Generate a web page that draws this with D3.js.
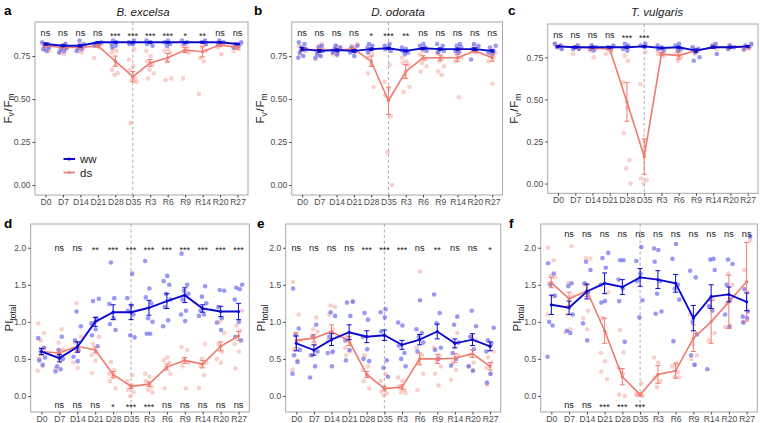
<!DOCTYPE html>
<html><head><meta charset="utf-8">
<script src="https://cdn.jsdelivr.net/npm/d3@7"></script>
<style>body{margin:0;background:#fff}svg{display:block;font-family:"Liberation Sans",Arial,sans-serif}</style>
</head><body><svg id="c" width="760" height="423"></svg>
<script>
const cats = ["D0","D7","D14","D21","D28","D35","R3","R6","R9","R14","R20","R27"];
const titles = ["B. excelsa","D. odorata","T. vulgaris"];
const fvTicks = [0,0.25,0.5,0.75];
const piTicks = [0,0.5,1.0,1.5,2.0];

// ---- panel a (Fv/Fm, B. excelsa)
const aWwMean = [0.82,0.81,0.81,0.83,0.83,0.83,0.83,0.83,0.83,0.83,0.83,0.82];
const aWwSe   = [0.006,0.006,0.008,0.004,0.004,0.004,0.004,0.004,0.004,0.004,0.004,0.004];
const aDsMean = [0.81,0.80,0.80,0.81,0.72,0.63,0.71,0.74,0.785,0.775,0.815,0.80];
const aDsSe   = [0.006,0.006,0.006,0.01,0.03,0.03,0.02,0.025,0.015,0.03,0.01,0.01];
const aWwPts = [[0.83,0.82,0.81,0.80,0.79,0.78],[0.82,0.81,0.80,0.79,0.78,0.77],[0.84,0.82,0.80,0.79,0.78],[0.83,0.82,0.82,0.81],[0.84,0.83,0.82,0.81,0.80],[0.84,0.83,0.82,0.82],[0.84,0.83,0.82,0.81],[0.84,0.83,0.82,0.81],[0.84,0.83,0.82],[0.84,0.83,0.82],[0.84,0.83,0.82],[0.83,0.82,0.81,0.80]];
const aDsPts = [[0.82,0.80,0.79,0.78],[0.82,0.80,0.79,0.77,0.76],[0.82,0.80,0.78,0.77],[0.82,0.81,0.80,0.74],[0.79,0.78,0.77,0.70,0.67,0.65,0.64],[0.79,0.73,0.69,0.67,0.62,0.61,0.60,0.36],[0.78,0.75,0.72,0.70,0.67,0.65,0.62],[0.79,0.78,0.77,0.72,0.62,0.61],[0.81,0.80,0.78,0.77,0.62],[0.82,0.80,0.78,0.74,0.72,0.53],[0.83,0.82,0.80,0.76],[0.82,0.80,0.79,0.78]];
const aSigTop = ["ns","ns","ns","ns","***","***","***","***","*","**","ns","ns"];
const aSigBot = ["","","","","","","","","","","",""];

// ---- panel b (Fv/Fm, D. odorata)
const bWwMean = [0.79,0.78,0.785,0.78,0.79,0.795,0.78,0.795,0.79,0.79,0.79,0.78];
const bWwSe   = [0.01,0.008,0.006,0.008,0.006,0.005,0.005,0.005,0.006,0.006,0.008,0.006];
const bDsMean = [0.79,0.785,0.785,0.79,0.72,0.49,0.66,0.74,0.74,0.74,0.78,0.74];
const bDsSe   = [0.008,0.01,0.008,0.006,0.03,0.08,0.04,0.012,0.015,0.02,0.01,0.02];
const bWwPts = [[0.83,0.82,0.80,0.79,0.77,0.75,0.74],[0.81,0.80,0.78,0.76,0.75,0.74],[0.81,0.80,0.79,0.78,0.77,0.76],[0.81,0.80,0.78,0.77,0.75],[0.82,0.81,0.80,0.79,0.77],[0.82,0.81,0.80,0.79,0.78],[0.80,0.79,0.78,0.77,0.76],[0.82,0.81,0.80,0.79,0.78],[0.82,0.81,0.79,0.78,0.77],[0.82,0.81,0.80,0.78,0.77],[0.82,0.81,0.79,0.78,0.73],[0.81,0.80,0.78,0.77,0.76]];
const bDsPts = [[0.81,0.80,0.79,0.78,0.76],[0.82,0.81,0.79,0.77,0.75,0.73],[0.81,0.80,0.78,0.77,0.76,0.75],[0.82,0.81,0.80,0.79,0.77],[0.78,0.76,0.74,0.70,0.65,0.57],[0.70,0.60,0.56,0.52,0.40,0.19,0.00],[0.74,0.72,0.71,0.70,0.63,0.57,0.54],[0.78,0.76,0.73,0.71,0.69,0.66],[0.77,0.74,0.72,0.69,0.66,0.64],[0.78,0.76,0.74,0.72,0.51],[0.81,0.80,0.78,0.77],[0.77,0.75,0.74,0.72,0.59]];
const bSigTop = ["ns","ns","ns","ns","*","***","**","ns","ns","ns","ns","ns"];
const bSigBot = ["","","","","","","","","","","",""];

// ---- panel c (Fv/Fm, T. vulgaris)
const cWwMean = [0.815,0.81,0.81,0.81,0.81,0.815,0.805,0.81,0.79,0.81,0.81,0.815];
const cWwSe   = [0.004,0.004,0.004,0.004,0.005,0.004,0.004,0.005,0.01,0.006,0.004,0.004];
const cDsMean = [0.815,0.81,0.805,0.80,0.485,0.16,0.77,0.76,0.79,0.81,0.81,0.81];
const cDsSe   = [0.004,0.006,0.008,0.008,0.115,0.105,0.008,0.02,0.006,0.004,0.004,0.004];
const cWwPts = [[0.83,0.82,0.81,0.80],[0.82,0.81,0.80,0.80],[0.82,0.81,0.80,0.79],[0.82,0.81,0.80],[0.83,0.82,0.80,0.79],[0.83,0.82,0.81],[0.82,0.81,0.80,0.79],[0.83,0.82,0.80,0.79],[0.81,0.80,0.78,0.75,0.73],[0.83,0.82,0.77],[0.82,0.81,0.80],[0.83,0.82,0.81,0.80]];
const cDsPts = [[0.83,0.82,0.81,0.80],[0.82,0.81,0.80,0.77],[0.82,0.80,0.79,0.75],[0.81,0.80,0.78,0.77],[0.76,0.73,0.60,0.45,0.30,0.14,0.09,0.00],[0.78,0.59,0.25,0.03,0.02,0.00],[0.79,0.78,0.77,0.76],[0.79,0.77,0.75,0.73],[0.80,0.79,0.77],[0.82,0.81,0.80],[0.82,0.81,0.80],[0.82,0.81,0.80,0.79]];
const cSigTop = ["ns","ns","ns","ns","***","***","","","","","",""];
const cSigBot = ["","","","","","","","","","","",""];

// ---- panel d (PItotal, B. excelsa)
const dWwMean = [0.60,0.51,0.66,1.00,1.13,1.13,1.19,1.28,1.36,1.18,1.14,1.14];
const dWwSe   = [0.04,0.05,0.07,0.06,0.10,0.10,0.10,0.10,0.10,0.05,0.07,0.11];
const dDsMean = [0.60,0.58,0.67,0.62,0.29,0.13,0.16,0.39,0.48,0.43,0.67,0.81];
const dDsSe   = [0.05,0.04,0.06,0.04,0.04,0.03,0.03,0.04,0.04,0.05,0.06,0.06];
const dWwPts = [[0.78,0.65,0.60,0.52,0.48,0.42],[0.80,0.62,0.50,0.40,0.36,0.33],[1.14,0.94,0.75,0.62,0.53,0.47],[1.31,1.28,1.05,0.98,0.90,0.82,0.67],[1.80,1.32,1.24,1.05,0.97,0.89],[1.65,1.32,1.22,1.15,1.10,0.82,0.79],[1.82,1.45,1.33,1.25,1.05,1.00,0.84,0.84],[1.62,1.55,1.50,1.38,1.30,1.20,1.02,0.94],[1.92,1.50,1.42,1.38,1.30,1.15,1.10,1.01],[1.48,1.34,1.25,1.15,1.10,1.08],[1.43,1.42,1.20,1.05,0.99,0.89],[1.50,1.46,1.44,1.30,1.00,0.80,0.75]];
const dDsPts = [[0.98,0.85,0.75,0.65,0.50,0.40,0.34],[0.90,0.72,0.63,0.55,0.47,0.37],[1.25,0.80,0.72,0.60,0.45,0.38],[0.80,0.70,0.60,0.55,0.48,0.31],[0.46,0.35,0.30,0.25,0.20,0.10],[0.28,0.20,0.12,0.08,0.05,0.00],[0.30,0.26,0.20,0.12,0.08,0.05],[0.52,0.48,0.45,0.38,0.30,0.10],[0.66,0.62,0.50,0.45,0.40,0.10],[0.70,0.50,0.45,0.40,0.28,0.11],[1.00,0.85,0.70,0.60,0.50,0.45],[1.15,0.95,0.88,0.70,0.60,0.37]];
const dSigTop = ["","ns","ns","**","***","***","***","***","***","***","***","***"];
const dSigBot = ["","ns","ns","ns","*","***","***","ns","ns","ns","ns","ns"];

// ---- panel e (PItotal, D. odorata)
const eWwMean = [0.71,0.62,0.76,0.86,0.80,0.82,0.69,0.76,0.87,0.71,0.76,0.67];
const eWwSe   = [0.10,0.07,0.08,0.10,0.08,0.07,0.06,0.07,0.10,0.06,0.08,0.06];
const eDsMean = [0.75,0.78,0.87,0.74,0.29,0.10,0.12,0.50,0.50,0.51,0.57,0.40];
const eDsSe   = [0.10,0.05,0.09,0.06,0.04,0.03,0.03,0.08,0.06,0.06,0.05,0.05];
const eWwPts = [[1.45,0.91,0.82,0.62,0.55,0.46,0.30],[0.96,0.81,0.60,0.55,0.40,0.25],[1.13,1.08,0.80,0.60,0.58,0.40],[1.27,1.26,1.08,0.75,0.62,0.48],[1.12,1.03,0.80,0.63,0.50,0.47],[1.17,1.13,1.06,0.87,0.48,0.38,0.26],[0.99,0.95,0.68,0.58,0.50,0.40],[1.29,0.90,0.85,0.80,0.72,0.60],[1.37,1.12,0.98,0.65,0.62,0.50],[1.07,0.96,0.72,0.58,0.50,0.41],[1.15,0.94,0.80,0.63,0.40,0.34],[0.92,0.75,0.70,0.60,0.30,0.18]];
const eDsPts = [[1.54,1.10,0.85,0.75,0.62,0.48,0.35],[1.06,0.90,0.87,0.80,0.70,0.55],[1.22,1.20,1.10,0.90,0.75,0.58],[1.28,0.80,0.70,0.65,0.60,0.55],[0.55,0.40,0.35,0.28,0.20,0.10],[0.30,0.20,0.10,0.06,0.03,0.01],[0.25,0.20,0.12,0.08,0.05,0.04],[1.68,0.65,0.55,0.45,0.30,0.08],[0.65,0.55,0.48,0.40,0.30,0.14],[0.85,0.65,0.55,0.45,0.35,0.22],[0.80,0.75,0.55,0.45,0.40,0.35],[0.60,0.52,0.45,0.38,0.30,0.15]];
const eSigTop = ["ns","ns","ns","ns","***","***","***","ns","**","ns","ns","*"];
const eSigBot = ["","","","","","","","","","","",""];

// ---- panel f (PItotal, T. vulgaris)
const fWwMean = [1.23,1.19,1.41,1.52,1.47,1.60,1.57,1.52,1.05,1.34,1.37,1.27];
const fWwSe   = [0.13,0.09,0.10,0.14,0.10,0.12,0.12,0.12,0.17,0.16,0.10,0.12];
const fDsMean = [1.53,1.31,1.42,0.88,0.26,0.02,0.29,0.34,0.78,1.00,1.27,1.54];
const fDsSe   = [0.07,0.09,0.08,0.17,0.11,0.02,0.12,0.10,0.18,0.29,0.36,0.53];
const fWwPts = [[1.79,1.65,1.50,1.35,1.00,0.95,0.53],[1.52,1.48,1.10,0.88,0.85],[1.81,1.70,1.52,1.40,0.98,0.75],[1.93,1.86,1.73,1.50,1.28,1.26],[1.83,1.83,1.57,1.45,1.28,0.73],[2.01,1.82,1.65,1.55,1.29,1.06],[1.99,1.97,1.81,1.55,1.38,1.14,1.11],[2.05,1.85,1.50,1.45,1.30,0.74],[1.69,1.60,1.00,0.83,0.55,0.42],[1.85,1.84,1.70,1.21,1.15,0.36],[1.84,1.78,1.50,1.30,1.10,0.93],[2.15,1.44,1.14,1.07,1.05,0.99]];
const fDsPts = [[2.00,1.83,1.62,1.60,1.52,1.35,1.10],[2.02,1.52,1.35,1.10,0.90,0.86],[1.86,1.85,1.50,1.15,1.05,0.90],[1.40,1.05,0.85,0.58,0.47,0.33,0.23],[0.89,0.59,0.38,0.30,0.02,0.00],[0.17,0.03,0.02,0.01,0.00],[0.52,0.45,0.25,0.20,0.12],[0.44,0.40,0.32,0.26,0.25],[1.10,0.85,0.70,0.55,0.50,0.42],[1.30,1.20,0.85,0.75],[1.65,1.50,1.25,0.95,0.93],[2.10,1.70,1.40,1.00]];
const fSigTop = ["","ns","ns","ns","ns","ns","ns","ns","ns","ns","ns","ns"];
const fSigBot = ["","ns","ns","***","***","***","","","","","",""];

// ---------------- drawing ----------------
const WW = "#0a0ad0", DS = "#ef7b6f";
const WWPT = "rgba(70,70,235,0.55)", DSPT = "rgba(244,150,140,0.45)";
const svg = d3.select("#c");

const panels = [
  {lab:"a", title:titles[0], type:"fv", box:[35,248,22,195], lx:4, ly:15, tx:143, ytb:11.5, wm:aWwMean, ws:aWwSe, dm:aDsMean, dsd:aDsSe, wp:aWwPts, dp:aDsPts, st:aSigTop, sb:aSigBot, legend:true},
  {lab:"b", title:titles[1], type:"fv", box:[291.7,502.5,22,195], lx:254, ly:15, tx:398, ytb:264, wm:bWwMean, ws:bWwSe, dm:bDsMean, dsd:bDsSe, wp:bWwPts, dp:bDsPts, st:bSigTop, sb:bSigBot},
  {lab:"c", title:titles[2], type:"fv", box:[547.7,758,24,193.3], lx:508, ly:15, tx:657, ytb:518, wm:cWwMean, ws:cWwSe, dm:cDsMean, dsd:cDsSe, wp:cWwPts, dp:cDsPts, st:cSigTop, sb:cSigBot},
  {lab:"d", type:"pi", box:[30.7,249.3,224,412], lx:4, ly:228, ytb:13, wm:dWwMean, ws:dWwSe, dm:dDsMean, dsd:dDsSe, wp:dWwPts, dp:dDsPts, st:dSigTop, sb:dSigBot},
  {lab:"e", type:"pi", box:[285.7,500.7,224,412], lx:257, ly:228, ytb:265, wm:eWwMean, ws:eWwSe, dm:eDsMean, dsd:eDsSe, wp:eWwPts, dp:eDsPts, st:eSigTop, sb:eSigBot},
  {lab:"f", type:"pi", box:[540.7,757.3,224,412], lx:509, ly:228, ytb:521, wm:fWwMean, ws:fWwSe, dm:fDsMean, dsd:fDsSe, wp:fWwPts, dp:fDsPts, st:fSigTop, sb:fSigBot}
];

const jit = [-3.2,2.4,-0.8,3.6,-2.2,1.2,-3.8,0.4];

panels.forEach(p => {
  const [l,r,t,b] = p.box;
  const x = d3.scalePoint().domain(cats).range([l,r]).padding(0.6);
  let y, ticks, fmt, topY, botY;
  if (p.type === "fv") {
    y = d3.scaleLinear().domain([-0.058,0.948]).range([b,t]);
    ticks = fvTicks; fmt = d3.format(".2f"); topY = 0.882; botY = null;
  } else {
    y = d3.scaleLinear().domain([-0.216,2.32]).range([b,t]);
    ticks = piTicks; fmt = d3.format(".1f");
    topY = (p.lab === "f") ? 2.19 : 2.0; botY = -0.12;
  }
  const g = svg.append("g");
  g.append("rect").attr("x",l).attr("y",t).attr("width",r-l).attr("height",b-t)
    .attr("fill","#fff").attr("stroke","#a8a8a8").attr("stroke-width",1);

  const yAx = g.append("g").attr("transform",`translate(${l},0)`)
    .call(d3.axisLeft(y).tickValues(ticks).tickFormat(fmt).tickSize(2.5).tickPadding(2));
  const xAx = g.append("g").attr("transform",`translate(0,${b})`)
    .call(d3.axisBottom(x).tickSize(2.5).tickPadding(1.5));
  [yAx,xAx].forEach(a => {
    a.select(".domain").remove();
    a.selectAll("line").attr("stroke","#444");
    a.selectAll("text").attr("fill","#4d4d4d").style("font-size","8.6px").style("font-family","Liberation Sans, Arial, sans-serif");
  });

  g.append("line").attr("x1",x("D35")).attr("x2",x("D35")).attr("y1",t).attr("y2",b)
    .attr("stroke","#9a9a9a").attr("stroke-width",0.8).attr("stroke-dasharray","3,2.5");

  const pts = (arr,col) => {
    arr.forEach((vals,i) => vals.forEach((v,k) => {
      g.append("circle").attr("cx",x(cats[i])+jit[(k+i)%jit.length]).attr("cy",y(v)).attr("r",2.3).attr("fill",col);
    }));
  };
  pts(p.dp, DSPT);
  pts(p.wp, WWPT);

  const series = (m,s,col,w) => {
    m.forEach((v,i) => {
      const cx = x(cats[i]);
      const y1 = y(v - s[i]), y2 = y(v + s[i]);
      g.append("line").attr("x1",cx).attr("x2",cx).attr("y1",y1).attr("y2",y2).attr("stroke",col).attr("stroke-width",1);
      [y1,y2].forEach(yy => g.append("line").attr("x1",cx-2.5).attr("x2",cx+2.5).attr("y1",yy).attr("y2",yy).attr("stroke",col).attr("stroke-width",1));
    });
    g.append("path").datum(m).attr("fill","none").attr("stroke",col).attr("stroke-width",w)
      .attr("d", d3.line().x((d,i)=>x(cats[i])).y(d=>y(d)));
    m.forEach((v,i) => g.append("circle").attr("cx",x(cats[i])).attr("cy",y(v)).attr("r",1.6).attr("fill",col));
  };
  series(p.dm, p.dsd, DS, 1.6);
  series(p.wm, p.ws, WW, 1.9);

  const sig = (arr,val) => arr.forEach((s,i) => {
    if (!s) return;
    const star = s.indexOf("*") >= 0;
    g.append("text").attr("x",x(cats[i])).attr("y",y(val) + (star ? 5.5 : 3))
      .attr("text-anchor","middle").attr("fill","#1a1a1a")
      .style("font-size", star ? "9px" : "9.2px").text(s);
  });
  sig(p.st, topY);
  if (botY !== null) sig(p.sb, botY);

  svg.append("text").attr("x",p.lx).attr("y",p.ly).style("font-size","13.5px").style("font-weight","bold").text(p.lab);
  if (p.title) svg.append("text").attr("x",p.tx).attr("y",16).attr("text-anchor","middle")
    .style("font-size","11.5px").style("font-style","italic").attr("fill","#1a1a1a").text(p.title);

  const cy = (t+b)/2;
  const yt = svg.append("text").attr("transform",`translate(${p.ytb},${cy}) rotate(-90)`)
    .attr("text-anchor","middle").style("font-size","11.5px").attr("fill","#1a1a1a");
  if (p.type === "fv") {
    yt.append("tspan").text("F");
    yt.append("tspan").attr("dy",2.5).style("font-size","8.5px").text("v");
    yt.append("tspan").attr("dy",-2.5).attr("dx",0.8).text("/");
    yt.append("tspan").attr("dx",0.8).text("F");
    yt.append("tspan").attr("dy",2.5).style("font-size","8.5px").text("m");
  } else {
    yt.append("tspan").text("PI");
    yt.append("tspan").attr("dy",2.5).style("font-size","8.5px").text("total");
  }

  if (p.legend) {
    const items = [["ww",WW,2],["ds",DS,1.6]];
    items.forEach((it,k) => {
      const ly = 159 + k*13.5;
      svg.append("line").attr("x1",63.5).attr("x2",75).attr("y1",ly).attr("y2",ly).attr("stroke",it[1]).attr("stroke-width",it[2]);
      svg.append("circle").attr("cx",69.2).attr("cy",ly).attr("r",1.6).attr("fill",it[1]);
      svg.append("text").attr("x",80).attr("y",ly+4).style("font-size","11.5px").attr("fill","#1a1a1a").text(it[0]);
    });
  }
});
</script></body></html>
